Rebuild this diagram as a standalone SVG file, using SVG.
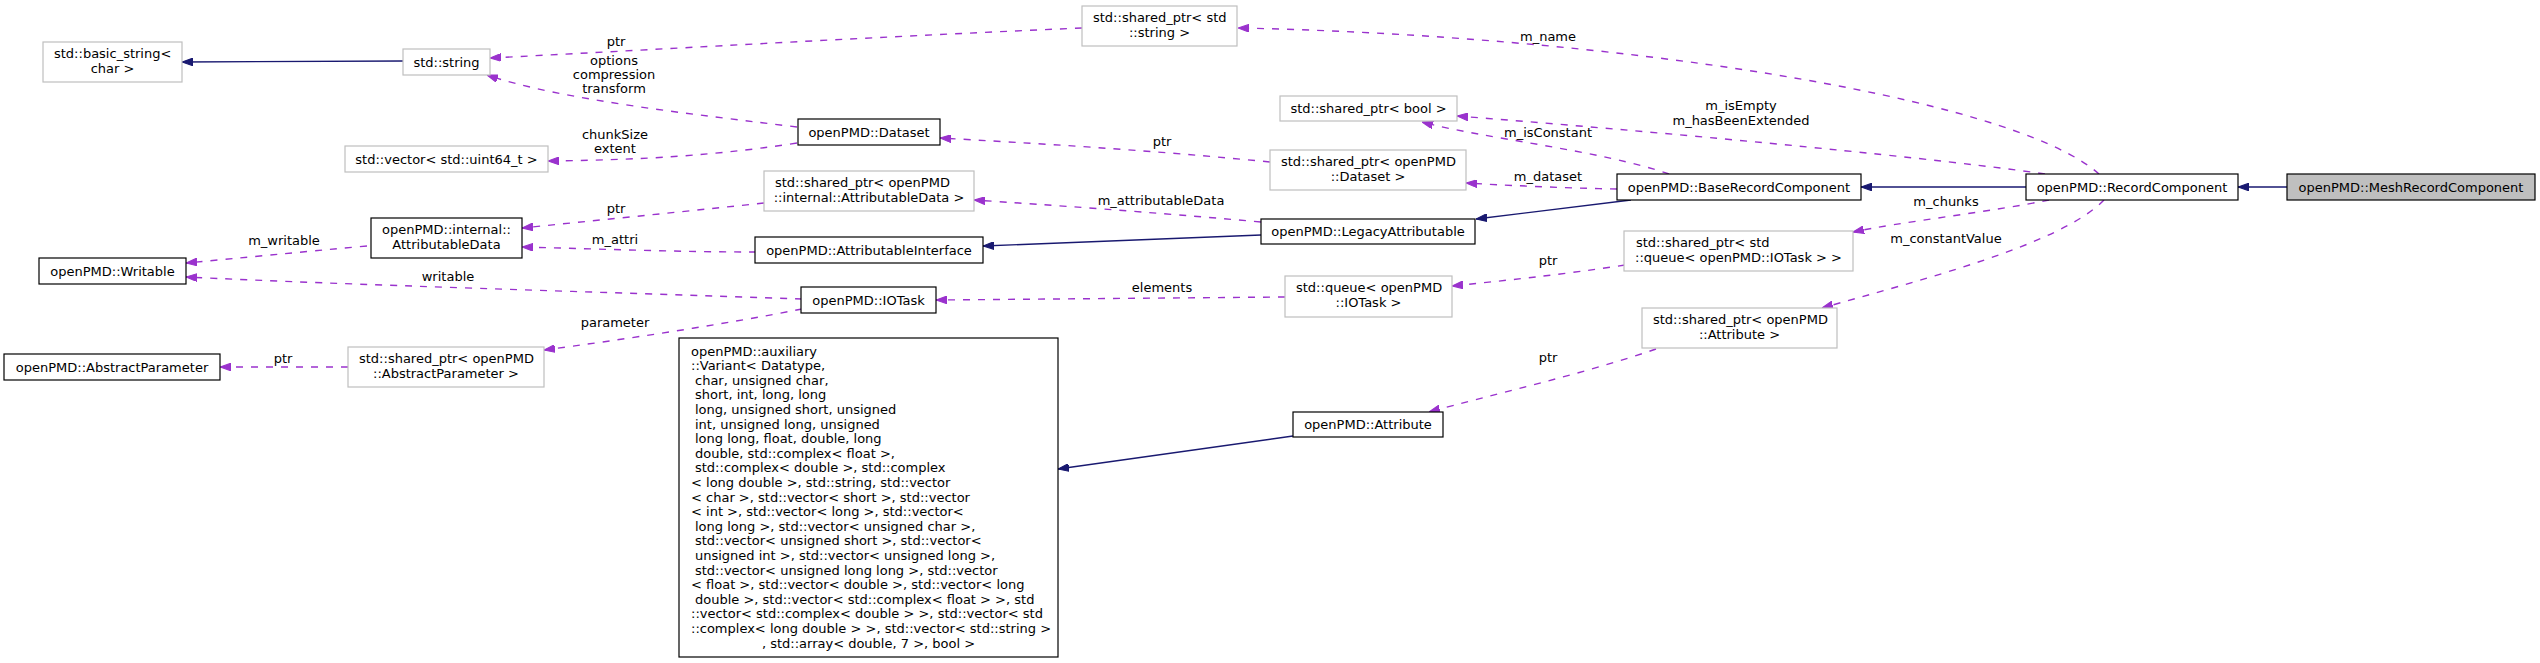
<svg xmlns="http://www.w3.org/2000/svg" width="2540" height="663" viewBox="0 0 2540 663">
<style>
text{font-family:"DejaVu Sans","Liberation Sans",sans-serif;font-size:13px;fill:#000}
.c{text-anchor:middle}
.b{fill:#fff;stroke:#000;stroke-width:1.2}
.g{fill:#fff;stroke:#bfbfbf;stroke-width:1.2}
.s{fill:#bfbfbf;stroke:#000;stroke-width:1.2}
.inh{stroke:#191970;fill:none;stroke-width:1.4}
.mem{stroke:#9a32cd;fill:none;stroke-width:1.4;stroke-dasharray:7,8}
</style>
<defs>
<marker id="an" viewBox="0 0 10 7" refX="10" refY="3.5" markerWidth="11" markerHeight="8" orient="auto" markerUnits="userSpaceOnUse"><path d="M0,0L10,3.5L0,7z" fill="#191970" stroke="#191970"/></marker>
<marker id="ap" viewBox="0 0 10 7" refX="10" refY="3.5" markerWidth="11" markerHeight="8" orient="auto" markerUnits="userSpaceOnUse"><path d="M0,0L10,3.5L0,7z" fill="#9a32cd" stroke="#9a32cd"/></marker>
</defs>
<rect width="2540" height="663" fill="#fff"/>
<g id="edges">
<path class="inh" marker-end="url(#an)" d="M2287,187L2238,187"/>
<path class="inh" marker-end="url(#an)" d="M2026,187L1861,187"/>
<path class="inh" marker-end="url(#an)" d="M1631,200L1476,219"/>
<path class="inh" marker-end="url(#an)" d="M1261,235L983,246"/>
<path class="inh" marker-end="url(#an)" d="M1293,436L1058,469"/>
<path class="inh" marker-end="url(#an)" d="M403,61L182,62"/>
<path class="mem" marker-end="url(#ap)" d="M2099,174C2010,95 1600,35 1238,28"/>
<path class="mem" marker-end="url(#ap)" d="M2045,174C1950,160 1700,135 1457,116"/>
<path class="mem" marker-end="url(#ap)" d="M1669,174C1600,150 1480,138 1422,122"/>
<path class="mem" marker-end="url(#ap)" d="M1617,189C1560,188 1500,185 1466,183"/>
<path class="mem" marker-end="url(#ap)" d="M1270,162C1150,150 1030,143 940,138"/>
<path class="mem" marker-end="url(#ap)" d="M2049,200C1990,212 1900,222 1853,232"/>
<path class="mem" marker-end="url(#ap)" d="M2104,200C2060,245 1920,280 1822,308"/>
<path class="mem" marker-end="url(#ap)" d="M1625,265C1560,275 1500,281 1452,286"/>
<path class="mem" marker-end="url(#ap)" d="M1285,297L936,300"/>
<path class="mem" marker-end="url(#ap)" d="M1656,349C1580,375 1490,395 1429,412"/>
<path class="mem" marker-end="url(#ap)" d="M1261,222C1150,212 1050,205 974,200"/>
<path class="mem" marker-end="url(#ap)" d="M764,203C680,212 600,220 522,228"/>
<path class="mem" marker-end="url(#ap)" d="M756,252C680,252 600,249 522,247"/>
<path class="mem" marker-end="url(#ap)" d="M367,246C300,252 240,258 186,263"/>
<path class="mem" marker-end="url(#ap)" d="M802,299C600,292 350,285 186,277"/>
<path class="mem" marker-end="url(#ap)" d="M802,309C720,325 620,340 544,350"/>
<path class="mem" marker-end="url(#ap)" d="M348,367L220,367"/>
<path class="mem" marker-end="url(#ap)" d="M1082,28C850,38 650,50 490,58"/>
<path class="mem" marker-end="url(#ap)" d="M797,127C700,115 560,100 487,75"/>
<path class="mem" marker-end="url(#ap)" d="M797,143C700,158 620,160 548,161"/>
<g class="c">
<text x="616" y="46">ptr</text>
<text x="614" y="65">options</text>
<text x="614" y="79">compression</text>
<text x="614" y="93">transform</text>
<text x="615" y="139">chunkSize</text>
<text x="615" y="153">extent</text>
<text x="616" y="213">ptr</text>
<text x="615" y="244">m_attri</text>
<text x="284" y="245">m_writable</text>
<text x="448" y="281">writable</text>
<text x="615" y="327">parameter</text>
<text x="283" y="363">ptr</text>
<text x="1548" y="41">m_name</text>
<text x="1741" y="110">m_isEmpty</text>
<text x="1741" y="125">m_hasBeenExtended</text>
<text x="1548" y="137">m_isConstant</text>
<text x="1548" y="181">m_dataset</text>
<text x="1162" y="146">ptr</text>
<text x="1161" y="205">m_attributableData</text>
<text x="1162" y="292">elements</text>
<text x="1548" y="265">ptr</text>
<text x="1548" y="362">ptr</text>
<text x="1946" y="206">m_chunks</text>
<text x="1946" y="243">m_constantValue</text>
</g>
</g>
<g id="n_basic_string"><rect class="g" x="43" y="42" width="139" height="40"/><text x="54" y="58">std::basic_string&lt;</text><text class="c" x="112.5" y="73">char &gt;</text></g>
<g id="n_string"><rect class="g" x="403" y="49" width="87" height="26"/><text class="c" x="446.5" y="66.5">std::string</text></g>
<g id="n_vector"><rect class="g" x="345" y="146" width="203" height="26"/><text class="c" x="446.5" y="163.5">std::vector&lt; std::uint64_t &gt;</text></g>
<g id="n_attrdata"><rect class="b" x="371" y="218" width="151" height="40"/><text x="382" y="234">openPMD::internal::</text><text class="c" x="446.5" y="249">AttributableData</text></g>
<g id="n_writable"><rect class="b" x="39" y="258" width="147" height="26"/><text class="c" x="112.5" y="275.5">openPMD::Writable</text></g>
<g id="n_abstractparam"><rect class="b" x="4" y="354" width="216" height="26"/><text class="c" x="112" y="371.5">openPMD::AbstractParameter</text></g>
<g id="n_sp_abstractparam"><rect class="g" x="348" y="347" width="196" height="40"/><text x="359" y="363">std::shared_ptr&lt; openPMD</text><text class="c" x="446" y="378">::AbstractParameter &gt;</text></g>
<g id="n_variant"><rect class="b" x="679" y="338" width="379" height="319"/>
<text x="691" y="355.5">openPMD::auxiliary</text>
<text x="691" y="370.1">::Variant&lt; Datatype,</text>
<text x="695" y="384.7">char, unsigned char,</text>
<text x="695" y="399.3">short, int, long, long</text>
<text x="695" y="413.9">long, unsigned short, unsigned</text>
<text x="695" y="428.5">int, unsigned long, unsigned</text>
<text x="695" y="443.1">long long, float, double, long</text>
<text x="695" y="457.7">double, std::complex&lt; float &gt;,</text>
<text x="695" y="472.3">std::complex&lt; double &gt;, std::complex</text>
<text x="691" y="486.9">&lt; long double &gt;, std::string, std::vector</text>
<text x="691" y="501.5">&lt; char &gt;, std::vector&lt; short &gt;, std::vector</text>
<text x="691" y="516.1">&lt; int &gt;, std::vector&lt; long &gt;, std::vector&lt;</text>
<text x="695" y="530.7">long long &gt;, std::vector&lt; unsigned char &gt;,</text>
<text x="695" y="545.3">std::vector&lt; unsigned short &gt;, std::vector&lt;</text>
<text x="695" y="559.9">unsigned int &gt;, std::vector&lt; unsigned long &gt;,</text>
<text x="695" y="574.5">std::vector&lt; unsigned long long &gt;, std::vector</text>
<text x="691" y="589.1">&lt; float &gt;, std::vector&lt; double &gt;, std::vector&lt; long</text>
<text x="695" y="603.7">double &gt;, std::vector&lt; std::complex&lt; float &gt; &gt;, std</text>
<text x="691" y="618.3">::vector&lt; std::complex&lt; double &gt; &gt;, std::vector&lt; std</text>
<text x="691" y="632.9">::complex&lt; long double &gt; &gt;, std::vector&lt; std::string &gt;</text>
<text class="c" x="868.5" y="647.5">, std::array&lt; double, 7 &gt;, bool &gt;</text>
</g>
<g id="n_attribute"><rect class="b" x="1293" y="412" width="150" height="25"/><text class="c" x="1368" y="429">openPMD::Attribute</text></g>
<g id="n_sp_string"><rect class="g" x="1082" y="6" width="155" height="40"/><text x="1093" y="22">std::shared_ptr&lt; std</text><text class="c" x="1159.5" y="37">::string &gt;</text></g>
<g id="n_dataset"><rect class="b" x="798" y="119" width="142" height="26"/><text class="c" x="869" y="136.5">openPMD::Dataset</text></g>
<g id="n_sp_bool"><rect class="g" x="1280" y="96" width="177" height="25"/><text class="c" x="1368.5" y="113">std::shared_ptr&lt; bool &gt;</text></g>
<g id="n_sp_dataset"><rect class="g" x="1270" y="150" width="196" height="40"/><text x="1281" y="166">std::shared_ptr&lt; openPMD</text><text class="c" x="1368" y="181">::Dataset &gt;</text></g>
<g id="n_sp_attrdata"><rect class="g" x="764" y="171" width="210" height="40"/><text x="775" y="187">std::shared_ptr&lt; openPMD</text><text class="c" x="869" y="202">::internal::AttributableData &gt;</text></g>
<g id="n_legacy"><rect class="b" x="1261" y="219" width="214" height="25"/><text class="c" x="1368" y="236">openPMD::LegacyAttributable</text></g>
<g id="n_attrif"><rect class="b" x="755" y="237" width="228" height="26"/><text class="c" x="869" y="254.5">openPMD::AttributableInterface</text></g>
<g id="n_iotask"><rect class="b" x="801" y="287" width="135" height="26"/><text class="c" x="868.5" y="304.5">openPMD::IOTask</text></g>
<g id="n_queue"><rect class="g" x="1285" y="276" width="167" height="41"/><text x="1296" y="292">std::queue&lt; openPMD</text><text class="c" x="1368.5" y="307">::IOTask &gt;</text></g>
<g id="n_baserc"><rect class="b" x="1617" y="174" width="244" height="26"/><text class="c" x="1739" y="191.5">openPMD::BaseRecordComponent</text></g>
<g id="n_rc"><rect class="b" x="2026" y="174" width="212" height="26"/><text class="c" x="2132" y="191.5">openPMD::RecordComponent</text></g>
<g id="n_meshrc"><rect class="s" x="2287" y="174" width="248" height="26"/><text class="c" x="2411" y="191.5">openPMD::MeshRecordComponent</text></g>
<g id="n_sp_queue"><rect class="g" x="1624" y="231" width="229" height="40"/><text x="1636" y="247">std::shared_ptr&lt; std</text><text class="c" x="1738.5" y="262">::queue&lt; openPMD::IOTask &gt; &gt;</text></g>
<g id="n_sp_attribute"><rect class="g" x="1642" y="308" width="195" height="40"/><text x="1653" y="324">std::shared_ptr&lt; openPMD</text><text class="c" x="1739.5" y="339">::Attribute &gt;</text></g>
</svg>
